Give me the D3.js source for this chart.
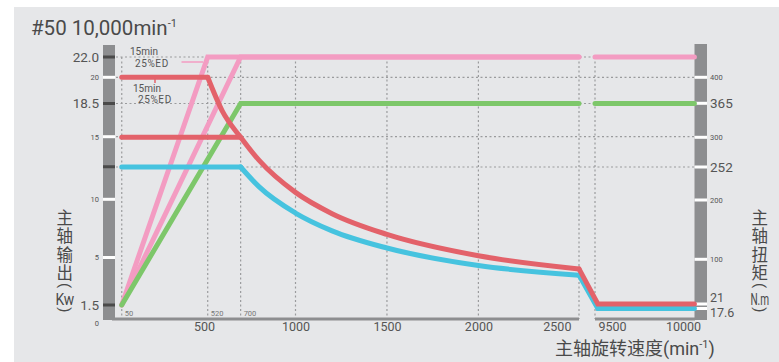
<!DOCTYPE html>
<html>
<head>
<meta charset="utf-8">
<script src="https://cdn.jsdelivr.net/npm/d3@7"></script>
<style>
  body { margin: 0; background: #fff; }
  #wrap { position: relative; width: 779px; height: 362px; }
  #chart { position: absolute; left: 0; top: 0; }
  text { font-family: Roboto, "Noto Sans", sans-serif; }
  .cjk { font-family: "Noto Sans CJK SC", sans-serif; }
  .vtitle {
    position: absolute;
    writing-mode: vertical-rl;
    font-family: "Noto Sans CJK SC", sans-serif;
    font-size: 16.5px;
    line-height: 1;
    letter-spacing: 2px;
    color: #4a4a4a;
    white-space: nowrap;
  }
  .vtitle .paren { font-family: Roboto, sans-serif; font-size: 15px; }
  .vtitle .unit {
    font-family: Roboto, sans-serif;
    font-size: 17px;
    letter-spacing: 0;
    text-combine-upright: all;
    -webkit-text-combine: horizontal;
  }
</style>
</head>
<body>
<div id="wrap"><svg id="chart" width="779" height="362"></svg></div>
<script>
// speed (min-1) ticks and marks
const speedTicks = [500, 1000, 1500, 2000, 2500, 9500, 10000];
const speedMarks = [50, 520, 700];
const speedGrid = [50, 520, 700, 1000, 1500, 2000, 2550, 9380];

// power axis (kW)
const powerTicks = [0, 1.5, 5, 10, 15, 18.5, 20, 22];
const powerBig = [1.5, 18.5, 22];
const powerDark = [1.5, 12.6, 18.5, 22];
const powerGrid = [15, 18.5, 20, 22];

// torque axis (N.m)
const torqueTicks = [17.6, 21, 100, 200, 252, 300, 365, 400];
const torqueBig = [252, 365];
const torqueLow = [17.6, 21];
const torqueGrid = [252];

// power curves
const speedPink520 = [50, 520, 2550, 2551, 9380, 10080];
const powerPink520 = [1.5, 22.0, 22.0, null, 22.0, 22.0];
const speedPink700 = [50, 700, 2550];
const powerPink700 = [1.5, 22.0, 22.0];
const speedGreen = [50, 700, 2550, 2551, 9380, 10080];
const powerGreen = [1.5, 18.5, 18.5, null, 18.5, 18.5];

// torque curves: 15min (red)
const speedRedFlat = [50, 520];
const torqueRedFlat = [400, 400];
const speedRedFall = [520, 600, 700, 800, 1000, 1200, 1500, 2000, 2550];
const torqueRedFall = [400, 350, 300, 263, 212, 177, 142, 106, 83];
const speedRedHigh = [2550, 9400, 10080];
const torqueRedHigh = [83, 21, 21];
// 25%ED (red)
const speedRedED = [50, 700];
const torqueRedED = [300, 300];
// continuous (blue)
const speedBlueFlat = [50, 700];
const torqueBlueFlat = [252, 252];
const speedBlueFall = [700, 800, 1000, 1200, 1500, 2000, 2550];
const torqueBlueFall = [252, 221, 178, 148, 119, 89, 72];
const speedBlueHigh = [2550, 9400, 10080];
const torqueBlueHigh = [72, 17.6, 17.6];

const svg = d3.select('#chart');
const gray = '#8d8e90';
const ink = '#555';
const pink = '#f39cc2';
const green = '#7dc76a';
const red = '#e3626a';
const blue = '#46c3df';

svg.append('rect')
  .attr('x', 14).attr('y', 7)
  .attr('width', 779).attr('height', 362)
  .attr('fill', '#e6e7e9');

// broken x scale
const x = d3.scaleLinear()
  .domain([0, 2550, 9380, 10080])
  .range([112.6, 579, 595, 694.4]);

// schematic y scales
const yP = d3.scaleLinear()
  .domain([0, 1.5, 5, 10, 15, 18.5, 20, 22])
  .range([320, 305, 257.5, 199.3, 136.7, 103.5, 77.3, 57]);

const yT = d3.scaleLinear()
  .domain([0, 17.6, 21, 100, 200, 252, 300, 365, 400])
  .range([320, 308.5, 304, 259.3, 200, 167, 137.3, 103.3, 77.3]);

const plotTop = yP(22);
const base = 319;

// grid
const grid = svg.append('g')
  .attr('stroke', '#9a9b9d')
  .attr('stroke-width', 1.2)
  .attr('stroke-dasharray', '2,2.5');

grid.selectAll('line.h')
  .data(powerGrid.map(v => yP(v)).concat(torqueGrid.map(v => yT(v))))
  .enter()
  .append('line')
  .attr('x1', 116).attr('x2', 694)
  .attr('y1', d => d).attr('y2', d => d);

grid.selectAll('line.v')
  .data(speedGrid)
  .enter()
  .append('line')
  .attr('x1', d => x(d)).attr('x2', d => x(d))
  .attr('y1', plotTop).attr('y2', base);

// small speed marks
svg.selectAll('text.mark')
  .data(speedMarks)
  .enter()
  .append('text')
  .attr('class', 'mark')
  .attr('x', d => x(d) + 3)
  .attr('y', 316)
  .attr('font-size', 7.5)
  .attr('fill', '#777')
  .text(d => d);

// x axis base (two pieces)
svg.append('line')
  .attr('x1', 112).attr('x2', x(2550))
  .attr('y1', base).attr('y2', base)
  .attr('stroke', gray).attr('stroke-width', 3);
svg.append('line')
  .attr('x1', x(9380)).attr('x2', 695)
  .attr('y1', base).attr('y2', base)
  .attr('stroke', gray).attr('stroke-width', 3);

// side bars
svg.append('rect')
  .attr('x', 103).attr('y', 45)
  .attr('width', 12).attr('height', 275)
  .attr('fill', gray);
svg.append('rect')
  .attr('x', 694.5).attr('y', 44)
  .attr('width', 12.5).attr('height', 276)
  .attr('fill', gray);

// bar ticks
svg.selectAll('rect.lt')
  .data(powerTicks.filter(v => v > 0))
  .enter()
  .append('rect')
  .attr('x', 103).attr('width', 12)
  .attr('y', d => yP(d) - 1.5).attr('height', 3)
  .attr('fill', d => powerDark.includes(d) ? '#4a4a4a' : '#fff');
svg.selectAll('rect.dk')
  .data(powerDark.filter(v => !powerTicks.includes(v)))
  .enter()
  .append('rect')
  .attr('x', 103).attr('width', 12)
  .attr('y', d => yP(d) - 1.5).attr('height', 3)
  .attr('fill', '#4a4a4a');
svg.selectAll('rect.rt')
  .data(torqueTicks)
  .enter()
  .append('rect')
  .attr('x', 694.5).attr('width', 12.5)
  .attr('y', d => yT(d) - 1.5).attr('height', 3)
  .attr('fill', '#fff');

// axes (labels only)
const xAxis = svg.append('g')
  .attr('transform', `translate(0, ${base})`)
  .call(d3.axisBottom(x).tickValues(speedTicks).tickSize(0).tickPadding(3)
    .tickFormat(d => d));
xAxis.select('.domain').remove();
xAxis.selectAll('text')
  .attr('font-size', 12.5)
  .attr('fill', ink)
  .attr('dx', d => d === 2500 ? -13 : 0);

const leftAxis = svg.append('g')
  .attr('transform', 'translate(103, 0)')
  .call(d3.axisLeft(yP).tickValues(powerTicks).tickSize(0).tickPadding(4)
    .tickFormat(d => d === 22 ? '22.0' : d));
leftAxis.select('.domain').remove();
leftAxis.selectAll('text')
  .attr('font-size', d => powerBig.includes(d) ? 13.5 : 7.5)
  .attr('fill', ink)
  .attr('dy', d => d === 0 ? '0.7em' : '0.32em');

const rightAxis = svg.append('g')
  .attr('transform', 'translate(707, 0)')
  .call(d3.axisRight(yT).tickValues(torqueTicks).tickSize(0).tickPadding(3)
    .tickFormat(d => d));
rightAxis.select('.domain').remove();
rightAxis.selectAll('text')
  .attr('font-size', d => torqueBig.includes(d) ? 13.5 : torqueLow.includes(d) ? 12.5 : 7.5)
  .attr('fill', ink)
  .attr('dy', d => d === 21 ? '-2.5px' : d === 17.6 ? '8px' : '0.32em');

// curves
const powerLine = d3.line()
  .defined(d => d[1] != null)
  .x(d => x(d[0]))
  .y(d => yP(d[1]));
const torqueLine = d3.line()
  .x(d => x(d[0]))
  .y(d => yT(d[1]));
const torqueCurve = d3.line()
  .curve(d3.curveMonotoneX)
  .x(d => x(d[0]))
  .y(d => yT(d[1]));

const curves = [
  { d: powerLine(d3.zip(speedPink520, powerPink520)), c: pink },
  { d: powerLine(d3.zip(speedPink700, powerPink700)), c: pink },
  { d: powerLine(d3.zip(speedGreen, powerGreen)), c: green },
  { d: torqueLine(d3.zip(speedBlueFlat, torqueBlueFlat)), c: blue },
  { d: torqueCurve(d3.zip(speedBlueFall, torqueBlueFall)), c: blue },
  { d: torqueLine(d3.zip(speedBlueHigh, torqueBlueHigh)), c: blue },
  { d: torqueLine(d3.zip(speedRedED, torqueRedED)), c: red },
  { d: torqueLine(d3.zip(speedRedFlat, torqueRedFlat)), c: red },
  { d: torqueCurve(d3.zip(speedRedFall, torqueRedFall)), c: red },
  { d: torqueLine(d3.zip(speedRedHigh, torqueRedHigh)), c: red }
];

svg.selectAll('path.curve')
  .data(curves)
  .enter()
  .append('path')
  .attr('class', 'curve')
  .attr('d', d => d.d)
  .attr('fill', 'none')
  .attr('stroke', d => d.c)
  .attr('stroke-width', 5)
  .attr('stroke-linecap', 'round');

// annotations
const note = svg.append('g').attr('fill', ink).attr('font-size', 10);
note.append('text').attr('x', 130).attr('y', 55.3).text('15min');
note.append('text').attr('x', 135).attr('y', 67.2).attr('letter-spacing', 0.6).text('25%ED');
note.append('text').attr('x', 133).attr('y', 91.5).text('15min');
note.append('text').attr('x', 138).attr('y', 103.3).attr('letter-spacing', 0.6).text('25%ED');
svg.append('line')
  .attr('x1', 181.5).attr('x2', 203)
  .attr('y1', 62).attr('y2', 62)
  .attr('stroke', pink).attr('stroke-width', 1.5);
svg.append('line')
  .attr('x1', 155).attr('x2', 155)
  .attr('y1', 78).attr('y2', 83)
  .attr('stroke', red).attr('stroke-width', 1.5);

// title
const title = svg.append('text')
  .attr('x', 31).attr('y', 35)
  .attr('font-size', 20.5)
  .attr('fill', '#4a4a4a');
title.append('tspan').text('#50 10,000min');
title.append('tspan').attr('font-size', 11).attr('dy', -8).text('-1');

// x title
const xt = svg.append('text')
  .attr('x', 555).attr('y', 355)
  .attr('font-size', 18)
  .attr('fill', '#4a4a4a');
xt.append('tspan').attr('class', 'cjk').text('主轴旋转速度');
xt.append('tspan').text('(min');
xt.append('tspan').attr('font-size', 11).attr('dy', -7).text('-1');
xt.append('tspan').attr('dy', 7).text(')');

// vertical y titles (html, vertical writing)
function verticalTitle(cx, top, label, unit) {
  const div = d3.select('#wrap').append('div')
    .attr('class', 'vtitle')
    .style('left', (cx - 8.25) + 'px')
    .style('top', top + 'px');
  div.append('span').text(label);
  div.append('span').attr('class', 'paren').text('(');
  div.append('span').attr('class', 'unit').text(unit);
  div.append('span').attr('class', 'paren').text(')');
}
verticalTitle(64, 209, '主轴输出', 'Kw');
verticalTitle(759, 209, '主轴扭矩', 'N.m');
</script>
</body>
</html>
